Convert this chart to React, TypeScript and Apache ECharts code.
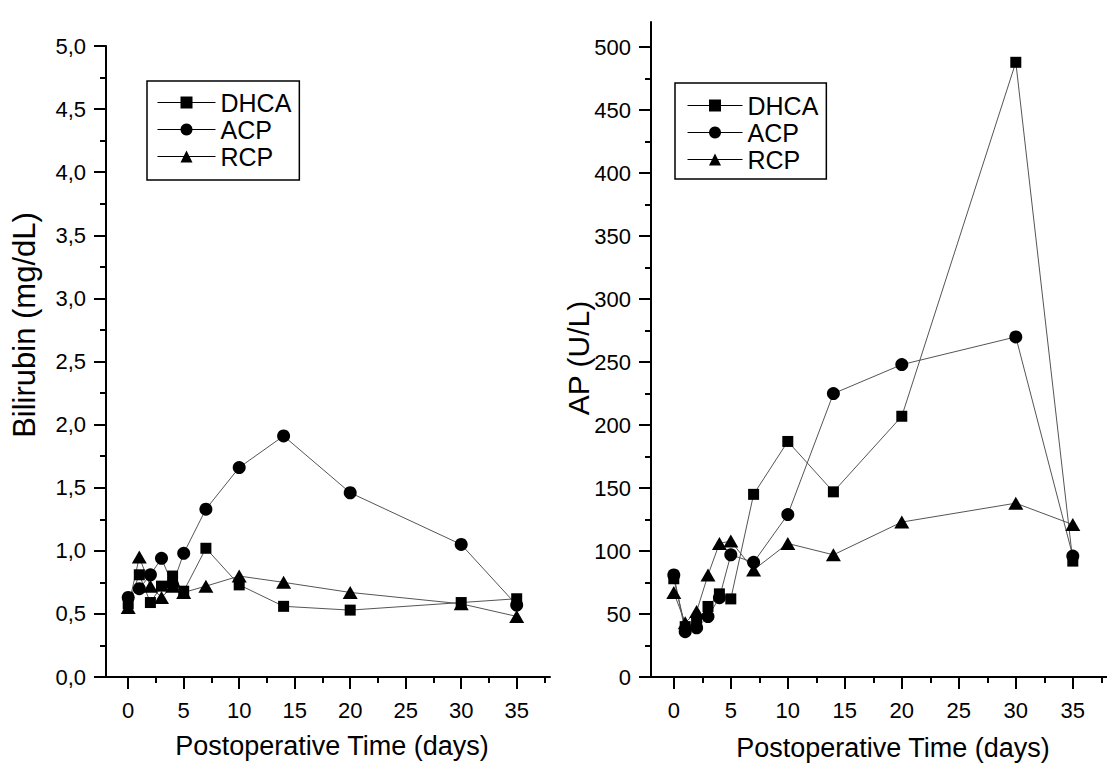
import React, { useEffect, useRef } from "react";
import * as echarts from "echarts";

const days = [0, 1, 2, 3, 4, 5, 7, 10, 14, 20, 30, 35];
const seriesNames = ["DHCA", "ACP", "RCP"];
const bilirubinDHCA = [0.58, 0.81, 0.59, 0.72, 0.8, 0.68, 1.02, 0.73, 0.56, 0.53, 0.59, 0.62];
const bilirubinACP = [0.63, 0.7, 0.81, 0.94, 0.73, 0.98, 1.33, 1.66, 1.91, 1.46, 1.05, 0.57];
const bilirubinRCP = [0.55, 0.95, 0.72, 0.63, 0.72, 0.67, 0.72, 0.8, 0.75, 0.67, 0.58, 0.48];
const apDHCA = [78, 40, 44, 56, 66, 62, 145, 187, 147, 207, 488, 92];
const apACP = [81, 36, 39, 48, 63, 97, 91, 129, 225, 248, 270, 96];
const apRCP = [67, 43, 52, 81, 106, 108, 85, 106, 97, 123, 138, 121];

const xTicks = [0, 5, 10, 15, 20, 25, 30, 35];
const xMinorTicks = [2.5, 7.5, 12.5, 17.5, 22.5, 27.5, 32.5, 37.5];
const bilirubinTicks = [0, 0.5, 1, 1.5, 2, 2.5, 3, 3.5, 4, 4.5, 5];
const bilirubinMinorTicks = [0.25, 0.75, 1.25, 1.75, 2.25, 2.75, 3.25, 3.75, 4.25, 4.75];
const apTicks = [0, 50, 100, 150, 200, 250, 300, 350, 400, 450, 500];
const apMinorTicks = [25, 75, 125, 175, 225, 275, 325, 375, 425, 475];

const FONT = "'Liberation Sans', Arial, sans-serif";
const symbols = ["rect", "circle", "triangle"];
const symbolSizes: any[] = [11, 13, [15, 13]];

function pairs(vals: number[]) {
  return days.map((d, i) => [d, vals[i]]);
}

export default function App() {
  const ref = useRef<HTMLDivElement>(null);
  useEffect(() => {
    if (!ref.current) return;
    const chart = echarts.init(ref.current, null, { renderer: "svg" });
    const axisLine = { show: true, onZero: false, lineStyle: { color: "#000", width: 2 } };
    const majorX = (gridIndex: number) => ({
      type: "value",
      gridIndex,
      position: "bottom",
      min: -2,
      max: 38,
      axisLine,
      axisTick: { show: true, length: 12, lineStyle: { color: "#000", width: 2 }, customValues: xTicks },
      axisLabel: { show: true, customValues: xTicks, margin: 22, fontSize: 22, color: "#000", fontFamily: FONT },
      splitLine: { show: false },
    });
    const minorX = (gridIndex: number) => ({
      type: "value",
      gridIndex,
      position: "bottom",
      offset: 0,
      min: -2,
      max: 38,
      axisLine: { show: false, onZero: false },
      axisTick: { show: true, length: 6, lineStyle: { color: "#000", width: 2 }, customValues: xMinorTicks },
      axisLabel: { show: false },
      splitLine: { show: false },
    });
    const majorY = (gridIndex: number, max: number, ticks: number[], fmt: (v: number) => string) => ({
      type: "value",
      gridIndex,
      position: "left",
      min: 0,
      max,
      axisLine,
      axisTick: { show: true, length: 12, lineStyle: { color: "#000", width: 2 }, customValues: ticks },
      axisLabel: { show: true, customValues: ticks, margin: 20, fontSize: 22, color: "#000", fontFamily: FONT, formatter: fmt },
      splitLine: { show: false },
    });
    const minorY = (gridIndex: number, max: number, ticks: number[]) => ({
      type: "value",
      gridIndex,
      position: "left",
      offset: 0,
      min: 0,
      max,
      axisLine: { show: false, onZero: false },
      axisTick: { show: true, length: 6, lineStyle: { color: "#000", width: 2 }, customValues: ticks },
      axisLabel: { show: false },
      splitLine: { show: false },
    });
    const mkSeries = (vals: number[], idx: number, axisIdx: number) => ({
      type: "line",
      name: seriesNames[idx],
      xAxisIndex: axisIdx,
      yAxisIndex: axisIdx,
      data: pairs(vals),
      symbol: symbols[idx],
      symbolSize: symbolSizes[idx],
      showAllSymbol: true,
      itemStyle: { color: "#000" },
      lineStyle: { color: "#555", width: 1 },
      z: 3,
    });
    const legendBase = {
      orient: "vertical",
      data: seriesNames,
      itemWidth: 58,
      itemHeight: 15,
      itemGap: 2,
      borderColor: "#000",
      borderWidth: 1.5,
      backgroundColor: "#fff",
      lineStyle: { color: "#000", width: 1 },
      textStyle: { fontSize: 25, color: "#000", fontFamily: FONT },
      selectedMode: false,
    };
    chart.setOption({
      animation: false,
      backgroundColor: "#fff",
      textStyle: { fontFamily: FONT },
      grid: [
        { left: 106, right: 557, top: 46, bottom: 92, containLabel: false },
        { left: 651, right: 0, top: 22, bottom: 92, containLabel: false },
      ],
      xAxis: [majorX(0), minorX(0), majorX(1), minorX(1)],
      yAxis: [
        majorY(0, 5, bilirubinTicks, (v: number) => v.toFixed(1).replace(".", ",")),
        minorY(0, 5, bilirubinMinorTicks),
        majorY(1, 520, apTicks, (v: number) => String(v)),
        minorY(1, 520, apMinorTicks),
      ],
      legend: [
        { ...legendBase, left: 147, top: 81, padding: [9, 8, 11, 10] },
        { ...legendBase, left: 675, top: 83, itemWidth: 55, padding: [10, 8, 7, 12] },
      ],
      series: [
        mkSeries(bilirubinDHCA, 0, 0),
        mkSeries(bilirubinACP, 1, 0),
        mkSeries(bilirubinRCP, 2, 0),
        mkSeries(apDHCA, 0, 2),
        mkSeries(apACP, 1, 2),
        mkSeries(apRCP, 2, 2),
      ],
      graphic: [
        { type: "text", x: 332, y: 746, style: { text: "Postoperative Time (days)", font: `27px ${FONT}`, fill: "#000", align: "center", verticalAlign: "middle" } },
        { type: "text", x: 893, y: 748, style: { text: "Postoperative Time (days)", font: `27px ${FONT}`, fill: "#000", align: "center", verticalAlign: "middle" } },
        { type: "text", x: 24, y: 325, rotation: Math.PI / 2, style: { text: "Bilirubin (mg/dL)", font: `31px ${FONT}`, fill: "#000", align: "center", verticalAlign: "middle" } },
        { type: "text", x: 578, y: 358, rotation: Math.PI / 2, style: { text: "AP (U/L)", font: `30px ${FONT}`, fill: "#000", align: "center", verticalAlign: "middle" } },
      ],
    });
    return () => chart.dispose();
  }, []);
  return <div ref={ref} style={{ position: "absolute", left: 0, top: 0, width: 1107, height: 769 }} />;
}
